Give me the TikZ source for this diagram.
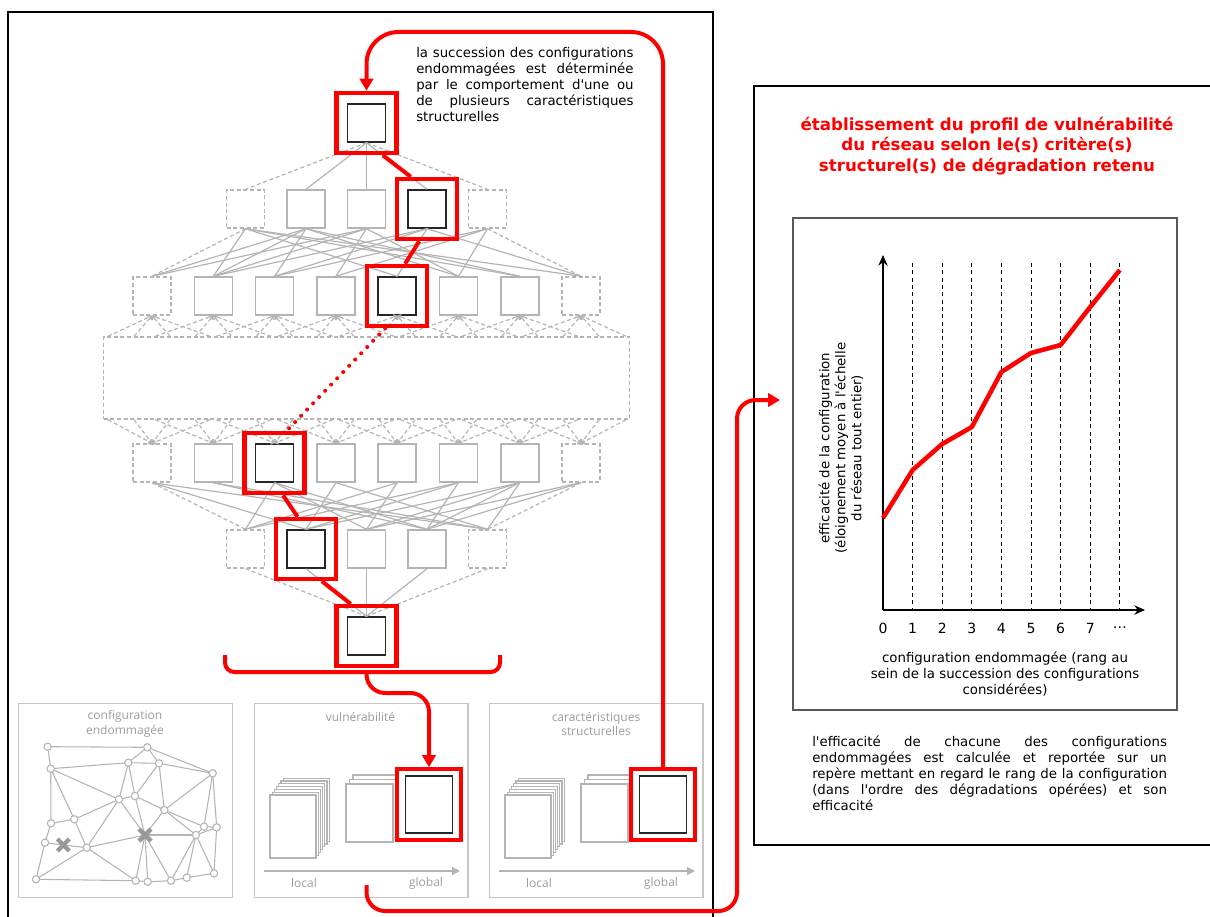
\documentclass[tikz,border=0pt]{standalone}
\usepackage{fontspec}
\setmainfont{DejaVu Sans}
\newfontfamily\panelfont{Open Sans}
\usetikzlibrary{arrows.meta}

\definecolor{latgray}{HTML}{B4B4B4}
\definecolor{pangray}{HTML}{C6C6C6}
\definecolor{labgray}{HTML}{9C9C9C}

\newcommand{\ap}{\textquotesingle}
% red segment between two highlighted squares
\newcommand{\redlink}[5][]{%
  \draw[redpath,#1] (intersection of #2.south--#3.north and #4.south west--#4.south east)
    -- (intersection of #2.south--#3.north and #5.north west--#5.north east);}

\begin{document}
\begin{tikzpicture}[x=0.75pt, y=-0.75pt,
    every node/.style={font=\fontsize{10}{12}\selectfont},
    cfg/.style={rectangle, draw=latgray, line width=1.1pt, fill=white, minimum size=28.5pt, inner sep=0pt},
    ghost/.style={cfg, dash pattern=on 3pt off 2pt},
    chosen/.style={cfg, draw=black!85},
    pick/.style={rectangle, draw=red, line width=3.4pt, minimum size=45pt, inner sep=0pt},
    link/.style={latgray, line width=0.9pt},
    ghostlink/.style={link, dash pattern=on 3pt off 2pt},
    fan/.style={ghostlink, -{Straight Barb[length=2pt, width=3.5pt]}},
    redpath/.style={red, line width=3pt},
    redloop/.style={red, line width=3pt, -{Triangle[length=9pt, width=10pt]}},
    frame/.style={draw=black, line width=2.2pt},
    panel/.style={rectangle, draw=pangray, line width=1.1pt, anchor=north west, inner sep=0pt},
    panellabel/.style={font=\panelfont\fontsize{9}{11}\selectfont, text=labgray, align=center},
    page/.style={draw=latgray, fill=white, line width=0.8pt},
    mesh/.style={latgray, line width=0.8pt},
    site/.style={circle, draw=latgray, fill=white, line width=0.8pt, minimum size=5.5pt, inner sep=0pt},
    cross/.style={latgray!85!black, line width=3.2pt},
    gaxis/.style={latgray, line width=1.1pt, -{Triangle[length=6pt, width=6pt]}},
    axis/.style={black, line width=1pt, -{Stealth[length=8pt, width=7pt]}},
    grid/.style={black, line width=0.6pt, dash pattern=on 3pt off 2.5pt},
    para/.style={anchor=north west, align=justify, inner sep=0pt}
]
\useasboundingbox (0,0) rectangle (1210,917);

% ============ FRAMES ============
\draw[frame] (8,12) rectangle (713,922);
\draw[frame] (754,86) rectangle (1222,845);

% ============ LATTICE OF CONFIGURATIONS ============
\node[chosen] (n0) at (366.5,123) {};
\foreach \i/\x/\s in {0/245.5/ghost, 1/306/cfg, 2/366.5/cfg, 3/427/chosen, 4/487.5/ghost}
  \node[\s] (a\i) at (\x,209) {};
\foreach \i/\s in {0/ghost, 1/cfg, 2/cfg, 3/cfg, 4/chosen, 5/cfg, 6/cfg, 7/ghost}
  \node[\s] (b\i) at ({152+61.3*\i},296) {};
\node[rectangle, draw=latgray, line width=1.1pt, dash pattern=on 3pt off 2pt,
      minimum width=394.5pt, minimum height=61.5pt, inner sep=0pt] (mid) at (366.5,378) {};
\foreach \i/\s in {0/ghost, 1/cfg, 2/chosen, 3/cfg, 4/cfg, 5/cfg, 6/cfg, 7/ghost}
  \node[\s] (c\i) at ({152+61.3*\i},463) {};
\foreach \i/\x/\s in {0/245.5/ghost, 1/306/chosen, 2/366.5/cfg, 3/427/cfg, 4/487.5/ghost}
  \node[\s] (d\i) at (\x,549) {};
\node[chosen] (e0) at (366.5,636) {};

% edges
\foreach \i in {1,2,3} \draw[link] (n0.south) -- (a\i.north);
\foreach \i in {0,4} \draw[ghostlink] (n0.south) -- (a\i.north);
\foreach \i/\k in {0/1,0/4,0/6,0/7,1/0,1/1,1/2,1/5,1/6,2/0,2/1,2/3,2/5,3/1,3/2,3/4,3/7,4/2,4/3,4/5} {
  \draw[link] (a\i.south) -- (b\k.north);
  \pgfmathtruncatemacro\ii{4-\i}
  \pgfmathtruncatemacro\kk{7-\k}
  \draw[link] (c\kk.south) -- (d\ii.north);
}
\draw[ghostlink] (a0.south) -- (b0.north);
\draw[ghostlink] (a4.south) -- (b7.north);
\draw[ghostlink] (c0.south) -- (d0.north);
\draw[ghostlink] (c7.south) -- (d4.north);
\foreach \k in {0,...,7}
  \foreach \d in {-58,-18,18,58} {
    \pgfmathsetmacro\ex{min(max(152+61.3*\k+\d,108),626)}
    \draw[fan] (\ex,0 |- mid.north) -- (b\k.south);
    \draw[fan] (\ex,0 |- mid.south) -- (c\k.north);
  }
\foreach \i in {1,2,3} \draw[link] (d\i.south) -- (e0.north);
\foreach \i in {0,4} \draw[ghostlink] (d\i.south) -- (e0.north);

% highlighted path
\node[pick] (h0) at (n0) {};
\node[pick] (h1) at (a3) {};
\node[pick] (h2) at (b4) {};
\node[pick] (h3) at (c2) {};
\node[pick] (h4) at (d1) {};
\node[pick] (h5) at (e0) {};
\redlink{n0}{a3}{h0}{h1}
\redlink{a3}{b4}{h1}{h2}
\redlink[line cap=round, dash pattern=on 0pt off 6.5pt]{b4}{c2}{h2}{h3}
\redlink{c2}{d1}{h3}{h4}
\redlink{d1}{e0}{h4}{h5}

\node[para, text width=163pt] (rule) at (416,47)
  {la succession des configurations\linebreak endommagées est déterminée\linebreak
   par le comportement d\ap une ou\linebreak de plusieurs caractéristiques\linebreak structurelles};

% brace
\coordinate (bracetip) at (366.5,672);
\draw[redpath, rounded corners=7] (225,655) |- (bracetip) -| (500,655);

% ============ BOTTOM PANELS ============
\node[panel, minimum width=160.5pt, minimum height=145.5pt] (net) at (18,703) {};
\node[panel, minimum width=160pt, minimum height=145.5pt] (vuln) at (254,703) {};
\node[panel, minimum width=160pt, minimum height=145.5pt] (carac) at (489,703) {};
\node[panellabel] at (125,724) {configuration\\endommagée};
\node[panellabel] at (360.5,717) {vulnérabilité};
\node[panellabel] at (596,724) {caractéristiques\\structurelles};

% damaged network
\foreach \n/\x/\y in {1/47.7/746.7, 2/147.3/747.3, 3/50.7/768.7, 4/128.3/762.7, 5/159/763.3,
    6/212.7/773.3, 7/119/799.3, 8/135/796, 9/164.3/810, 10/74.3/819.3, 11/51/823.3,
    12/204/826.7, 13/216.7/827.3, 14/196/835, 15/45/842.7, 17/86.7/847.7, 19/36/879.3,
    20/135.7/880.7, 21/147.7/881.7, 22/171/880.7, 23/186.7/877.7, 24/214/873.3}
  \coordinate (v\n) at (\x,\y);
\coordinate (v16) at (63.3,845);
\coordinate (v18) at (145,835);
\foreach \p/\q in {1/2,1/3,2/4,2/5,2/6,3/4,4/5,5/6,3/7,3/10,3/11,4/7,4/8,5/8,5/9,6/9,6/12,
    6/13,7/8,7/10,7/17,7/18,8/9,8/18,9/18,9/14,9/12,10/11,10/17,11/15,15/16,16/17,15/19,
    17/18,17/19,17/20,18/14,18/20,18/21,18/22,19/20,20/21,21/22,22/23,23/24,12/13,12/14,
    13/14,14/22,14/23,14/24,13/24}
  \draw[mesh] (v\p) -- (v\q);
\foreach \n in {1,...,15,17,19,20,21,22,23,24}
  \node[site] at (v\n) {};
\foreach \c in {v16,v18}
  \draw[cross] (\c) +(-6,-6) -- +(6,6) +(-6,6) -- +(6,-6);

% stacks of pages
\foreach \o in {0,235} {
  \foreach \j in {6,5,...,0}
    \draw[page] ({270+\o+2.2*\j},{795-2.8*\j}) rectangle ++(46,63);
  \foreach \j in {2,1,0}
    \draw[page] ({346+\o+3.5*\j},{784-4.5*\j}) rectangle ++(47,58);
  \draw[gaxis] ({264+\o},871) -- ({460+\o},871);
  \node[panellabel] at ({304+\o},883) {local};
  \node[panellabel] at ({426+\o},883) {global};
}
\node[rectangle, draw=red, line width=3pt, fill=white, minimum width=48pt, minimum height=53pt, inner sep=0pt] (sel2) at (429,804.5) {};
\node[chosen, minimum width=35pt, minimum height=43pt] at (sel2) {};
\node[rectangle, draw=red, line width=3pt, fill=white, minimum width=48pt, minimum height=53pt, inner sep=0pt] (sel3) at (663,804.5) {};
\node[chosen, minimum width=35pt, minimum height=43pt] at (sel3) {};

% ============ RED CONNECTORS ============
\coordinate (looptop) at (366.5,32);
\draw[redloop, rounded corners=24] (sel3.north) |- (looptop) -- (h0.north);
\draw[redloop, rounded corners=14] (bracetip) -- ++(0,21) -| (sel2.north);
\coordinate (out) at (366.5,885);
\coordinate (bend) at (737,911);
\coordinate (into) at (780,400);
\draw[redloop, rounded corners=14] (out) |- (bend) |- (into);

% ============ VULNERABILITY PROFILE ============
\node[font=\fontsize{12.5}{15.4}\selectfont\bfseries, text=red, align=center] (title) at (987,146)
  {établissement du profil de vulnérabilité\\du réseau selon le(s) critère(s)\\structurel(s) de dégradation retenu};
\draw[draw=black!65, line width=1.1pt] (793,218) rectangle (1177,710);
\coordinate (origin) at (883,610);
\foreach \i in {1,...,8}
  \draw[grid] ({883+29.6*\i},263) -- ({883+29.6*\i},610);
\draw[axis] (origin) -- (883,255);
\draw[axis] (origin) -- (1145,610);
\foreach \i/\t in {0/0,1/1,2/2,3/3,4/4,5/5,6/6,7/7,8/{\ldots}}
  \node[font=\fontsize{10.5}{12}\selectfont] at ({883+29.6*\i},628) {\t};
\draw[redpath, line width=3.4pt, line join=round] plot coordinates
  {(883,518) (912.6,470) (942.2,444) (971.8,427) (1001.4,372) (1031,353) (1060.6,345) (1090.2,307) (1119.8,270)};
\node[rotate=90, align=center] (ylab) at (841,448)
  {efficacité de la configuration\\(éloignement moyen à l\ap échelle\\du réseau tout entier)};
\node[align=center] (xlab) at (1005,674)
  {configuration endommagée (rang au\\sein de la succession des configurations\\considérées)};
\node[para, text width=266pt] (note) at (812,736)
  {l\ap efficacité de chacune des configurations\linebreak endommagées est calculée et reportée sur un\linebreak
   repère mettant en regard le rang de la configuration\linebreak (dans l\ap ordre des dégradations opérées) et son\linebreak efficacité};

\end{tikzpicture}
\end{document}
